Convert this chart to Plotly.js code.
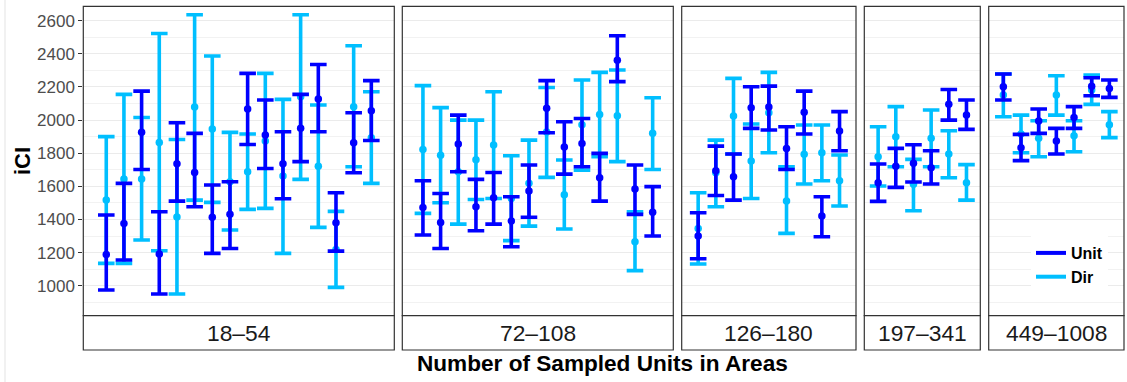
<!DOCTYPE html>
<html>
<head>
<meta charset="utf-8">
<script src="https://cdn.plot.ly/plotly-3.0.1.min.js"></script>
<style>
  html, body { margin: 0; padding: 0; background: #ffffff; }
  #chart { width: 1127px; height: 382px; }
</style>
</head>
<body>
<div id="chart"></div>
<script>
// ---------------- data ----------------
const panelLabels = ['18\u201354', '72\u2013108', '126\u2013180', '197\u2013341', '449\u20131008'];
const seriesNames = ['Unit', 'Dir'];

// Panel 1: 18–54
const p1UnitMid = [1189, 1376, 1926, 1191, 1737, 1684, 1413, 1431, 2067, 1910, 1737, 1950, 2127, 1380, 1863, 2057];
const p1UnitLo  = [974, 1155, 1702, 950, 1511, 1477, 1195, 1225, 1853, 1708, 1525, 1749, 1930, 1209, 1682, 1877];
const p1UnitHi  = [1427, 1618, 2175, 1447, 1984, 1920, 1608, 1628, 2282, 2121, 1930, 2155, 2336, 1561, 2044, 2238];
const p1DirMid  = [1517, 1644, 1644, 1865, 1415, 2079, 1946, 1628, 1688, 1873, 1662, 2141, 1722, 1219, 2081, 1894];
const p1DirLo   = [1135, 1135, 1276, 1211, 950, 1517, 1503, 1336, 1461, 1467, 1195, 1642, 1352, 990, 1718, 1618];
const p1DirHi   = [1900, 2155, 2016, 2523, 1883, 2636, 2387, 1926, 1916, 2282, 2125, 2636, 2091, 1449, 2449, 2171];

// Panel 2: 72–108
const p2UnitMid = [1473, 1382, 1855, 1477, 1531, 1390, 1572, 2071, 1837, 1859, 1652, 2362, 1584, 1443];
const p2UnitLo  = [1306, 1225, 1688, 1332, 1372, 1235, 1413, 1924, 1674, 1718, 1511, 2232, 1431, 1300];
const p2UnitHi  = [1634, 1557, 2030, 1642, 1684, 1537, 1729, 2238, 1990, 2010, 1799, 2509, 1729, 1598];
const p2DirMid  = [1823, 1787, 1688, 1761, 1849, 1527, 1618, 1928, 1549, 1972, 2034, 2026, 1266, 1920];
const p2DirLo   = [1437, 1501, 1372, 1521, 1527, 1272, 1360, 1654, 1342, 1698, 1779, 1749, 1091, 1702];
const p2DirHi   = [2208, 2075, 2000, 2000, 2171, 1785, 1879, 2197, 1759, 2242, 2288, 2302, 1447, 2135];

// Panel 3: 126–180
const p3UnitMid = [1300, 1694, 1658, 2075, 2079, 1829, 2047, 1421, 1934];
const p3UnitLo  = [1163, 1545, 1517, 1950, 1940, 1702, 1916, 1296, 1815];
const p3UnitHi  = [1441, 1843, 1795, 2201, 2205, 1960, 2175, 1537, 2051];
const p3DirMid  = [1346, 1682, 2024, 1753, 2044, 1511, 1793, 1803, 1634];
const p3DirLo   = [1131, 1477, 1795, 1527, 1803, 1316, 1614, 1634, 1481];
const p3DirHi   = [1561, 1879, 2252, 1976, 2288, 1718, 1970, 1970, 1789];

// Panel 4: 197–341
const p4UnitMid = [1622, 1722, 1739, 1712, 2095, 2030];
const p4UnitLo  = [1509, 1594, 1626, 1614, 2000, 1944];
const p4UnitHi  = [1735, 1829, 1851, 1815, 2185, 2121];
const p4DirMid  = [1779, 1900, 1612, 1890, 1795, 1622];
const p4DirLo   = [1602, 1718, 1453, 1718, 1652, 1517];
const p4DirHi   = [1960, 2081, 1763, 2061, 1936, 1731];

// Panel 5: 449–1008
const p5UnitMid = [2201, 1833, 1994, 1873, 2016, 2205, 2191];
const p5UnitLo  = [2121, 1755, 1920, 1795, 1950, 2147, 2137];
const p5UnitHi  = [2278, 1914, 2067, 1950, 2081, 2256, 2242];
const p5DirMid  = [2151, 1916, 1890, 2151, 1906, 2181, 1972];
const p5DirLo   = [2020, 1803, 1779, 2030, 1809, 2095, 1894];
const p5DirHi   = [2278, 2030, 1996, 2268, 1996, 2272, 2051];

const yTickVals = [1000, 1200, 1400, 1600, 1800, 2000, 2200, 2400, 2600];

// ---------------- layout helpers ----------------
const W = 1127, H = 382;
const panelPx = [[83.3, 394.3], [402.3, 673.3], [681.7, 856.0], [864.3, 980.3], [988.7, 1124.0]];
const panelTopPx = 6.3, panelBotPx = 315.7, stripBotPx = 350;
const unitSpacingPx = 17.67;
const yRange = [819, 2687];

const colUnit = '#0000FF';
const colDir = '#00BFFF';
const fontFam = '"Liberation Sans", Arial, Helvetica, sans-serif';

const panelData = [
  { unit: [p1UnitMid, p1UnitLo, p1UnitHi], dir: [p1DirMid, p1DirLo, p1DirHi] },
  { unit: [p2UnitMid, p2UnitLo, p2UnitHi], dir: [p2DirMid, p2DirLo, p2DirHi] },
  { unit: [p3UnitMid, p3UnitLo, p3UnitHi], dir: [p3DirMid, p3DirLo, p3DirHi] },
  { unit: [p4UnitMid, p4UnitLo, p4UnitHi], dir: [p4DirMid, p4DirLo, p4DirHi] },
  { unit: [p5UnitMid, p5UnitLo, p5UnitHi], dir: [p5DirMid, p5DirLo, p5DirHi] }
];

function mkTrace(arrs, name, color, k) {
  const mid = arrs[0], lo = arrs[1], hi = arrs[2];
  const sfx = k === 0 ? '' : String(k + 1);
  return {
    type: 'scatter', mode: 'markers', name: name, showlegend: false, legendgroup: name,
    x: mid.map((_, i) => i), y: mid,
    xaxis: 'x' + sfx, yaxis: 'y' + sfx,
    marker: { color: color, size: 7.5 },
    error_y: {
      type: 'data', symmetric: false,
      array: hi.map((v, i) => v - mid[i]),
      arrayminus: lo.map((v, i) => mid[i] - v),
      color: color, thickness: 3.6, width: 8.3
    },
    hoverinfo: 'y'
  };
}

const traces = [];
panelData.forEach((pd, k) => {
  traces.push(mkTrace(pd.dir, seriesNames[1], colDir, k));
  traces.push(mkTrace(pd.unit, seriesNames[0], colUnit, k));
});
// legend entries (lines, as in reference key)
traces.push({ type: 'scatter', mode: 'lines', name: seriesNames[0], legendgroup: seriesNames[0],
  x: [null], y: [null], line: { color: colUnit, width: 4 }, xaxis: 'x', yaxis: 'y' });
traces.push({ type: 'scatter', mode: 'lines', name: seriesNames[1], legendgroup: seriesNames[1],
  x: [null], y: [null], line: { color: colDir, width: 4 }, xaxis: 'x', yaxis: 'y' });

const yDomain = [1 - panelBotPx / H, 1 - panelTopPx / H];
const layout = {
  width: W, height: H,
  margin: { l: 0, r: 0, t: 0, b: 0, pad: 0 },
  paper_bgcolor: '#ffffff', plot_bgcolor: '#ffffff',
  font: { family: fontFam, color: '#000000' },
  showlegend: true,
  legend: {
    x: 1031 / W, y: 1 - 236 / H, xanchor: 'left', yanchor: 'top',
    bgcolor: '#ffffff', borderwidth: 0,
    font: { family: fontFam, size: 16, color: '#000000', weight: 'bold' },
    traceorder: 'normal', itemclick: false, itemdoubleclick: false
  },
  shapes: [], annotations: []
};

panelData.forEach((pd, k) => {
  const sfx = k === 0 ? '' : String(k + 1);
  const n = pd.unit[0].length;
  const px = panelPx[k];
  const widthUnits = (px[1] - px[0]) / unitSpacingPx;
  const pad = (widthUnits - (n - 1)) / 2;
  layout['xaxis' + sfx] = {
    domain: [px[0] / W, px[1] / W], anchor: 'y' + sfx,
    range: [-pad, n - 1 + pad], showgrid: false, zeroline: false,
    showticklabels: false, ticks: '', showline: false, fixedrange: true
  };
  layout['yaxis' + sfx] = {
    domain: yDomain, anchor: 'x' + sfx, range: yRange,
    tickmode: 'array', tickvals: yTickVals,
    showticklabels: k === 0, ticks: k === 0 ? 'outside' : '', ticklen: 4, tickwidth: 1, tickcolor: '#333333',
    tickfont: { family: fontFam, size: 17, color: '#4d4d4d' },
    showgrid: true, gridcolor: '#ebebeb', gridwidth: 1,
    minor: { tickmode: 'linear', tick0: 900, dtick: 200, showgrid: true, gridcolor: '#f2f2f2', gridwidth: 1, ticks: '' },
    zeroline: false, showline: false, fixedrange: true
  };
  // panel border
  layout.shapes.push({ type: 'rect', xref: 'paper', yref: 'paper',
    x0: px[0] / W, x1: px[1] / W, y0: yDomain[0], y1: yDomain[1],
    line: { color: '#333333', width: 1.2 }, fillcolor: 'rgba(0,0,0,0)', layer: 'above' });
  // strip
  layout.shapes.push({ type: 'rect', xref: 'paper', yref: 'paper',
    x0: px[0] / W, x1: px[1] / W, y0: 1 - stripBotPx / H, y1: yDomain[0],
    line: { color: '#333333', width: 1.2 }, fillcolor: '#ffffff', layer: 'above' });
  layout.annotations.push({ xref: 'paper', yref: 'paper',
    x: (px[0] + px[1]) / 2 / W, y: 1 - 332.7 / H,
    xanchor: 'center', yanchor: 'middle', showarrow: false,
    text: panelLabels[k], font: { family: fontFam, size: 22.8, color: '#1a1a1a' } });
});

// faint left border seen in the reference
layout.shapes.push({ type: 'line', xref: 'paper', yref: 'paper', x0: 5 / W, x1: 5 / W, y0: 0, y1: 1,
  line: { color: '#e3e3e3', width: 1 } });

// axis titles
layout.annotations.push({ xref: 'paper', yref: 'paper', x: 603 / W, y: 1 - 363 / H,
  xanchor: 'center', yanchor: 'middle', showarrow: false,
  text: '<b>Number of Sampled Units in Areas</b>',
  font: { family: fontFam, size: 22.6, color: '#000000' } });
layout.annotations.push({ xref: 'paper', yref: 'paper', x: 22 / W, y: 1 - 161 / H,
  xanchor: 'center', yanchor: 'middle', showarrow: false, textangle: -90,
  text: '<b>iCI</b>',
  font: { family: fontFam, size: 22, color: '#000000' } });

Plotly.newPlot('chart', traces, layout, { displayModeBar: false, staticPlot: true });
</script>
</body>
</html>
